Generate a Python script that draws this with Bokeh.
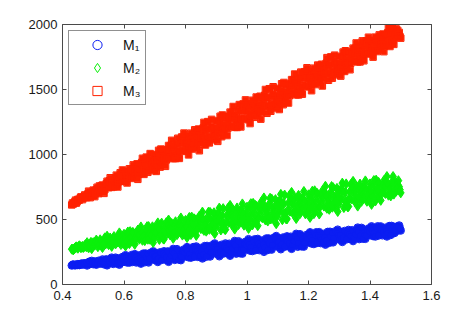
from bokeh.plotting import figure
from bokeh.models import Range1d, LinearAxis, FixedTicker
from bokeh.embed import file_html
from bokeh.resources import INLINE

# sample positions, first sweep
x_a = [
    0.430, 0.435, 0.440, 0.445, 0.450, 0.455, 0.460, 0.465, 0.470, 0.475,
    0.480, 0.485, 0.490, 0.495, 0.500, 0.505, 0.510, 0.515, 0.520, 0.525,
    0.530, 0.535, 0.540, 0.545, 0.550, 0.555, 0.560, 0.565, 0.570, 0.575,
    0.580, 0.585, 0.590, 0.595, 0.600, 0.605, 0.610, 0.615, 0.620, 0.625,
    0.630, 0.635, 0.640, 0.645, 0.650, 0.655, 0.660, 0.665, 0.670, 0.675,
    0.680, 0.685, 0.690, 0.695, 0.700, 0.705, 0.710, 0.715, 0.720, 0.725,
    0.730, 0.735, 0.740, 0.745, 0.750, 0.755, 0.760, 0.765, 0.770, 0.775,
    0.780, 0.785, 0.790, 0.795, 0.800, 0.805, 0.810, 0.815, 0.820, 0.825,
    0.830, 0.835, 0.840, 0.845, 0.850, 0.855, 0.860, 0.865, 0.870, 0.875,
    0.880, 0.885, 0.890, 0.895, 0.900, 0.905, 0.910, 0.915, 0.920, 0.925,
    0.930, 0.935, 0.940, 0.945, 0.950, 0.955, 0.960, 0.965, 0.970, 0.975,
    0.980, 0.985, 0.990, 0.995, 1.000, 1.005, 1.010, 1.015, 1.020, 1.025,
    1.030, 1.035, 1.040, 1.045, 1.050, 1.055, 1.060, 1.065, 1.070, 1.075,
    1.080, 1.085, 1.090, 1.095, 1.100, 1.105, 1.110, 1.115, 1.120, 1.125,
    1.130, 1.135, 1.140, 1.145, 1.150, 1.155, 1.160, 1.165, 1.170, 1.175,
    1.180, 1.185, 1.190, 1.195, 1.200, 1.205, 1.210, 1.215, 1.220, 1.225,
    1.230, 1.235, 1.240, 1.245, 1.250, 1.255, 1.260, 1.265, 1.270, 1.275,
    1.280, 1.285, 1.290, 1.295, 1.300, 1.305, 1.310, 1.315, 1.320, 1.325,
    1.330, 1.335, 1.340, 1.345, 1.350, 1.355, 1.360, 1.365, 1.370, 1.375,
    1.380, 1.385, 1.390, 1.395, 1.400, 1.405, 1.410, 1.415, 1.420, 1.425,
    1.430, 1.435, 1.440, 1.445, 1.450, 1.455, 1.460, 1.465, 1.470, 1.475,
    1.480, 1.485, 1.490, 1.495, 1.500,
]

# sample positions, second sweep
x_b = [
    0.4325, 0.4375, 0.4425, 0.4475, 0.4525, 0.4575, 0.4625, 0.4675, 0.4725, 0.4775,
    0.4825, 0.4875, 0.4925, 0.4975, 0.5025, 0.5075, 0.5125, 0.5175, 0.5225, 0.5275,
    0.5325, 0.5375, 0.5425, 0.5475, 0.5525, 0.5575, 0.5625, 0.5675, 0.5725, 0.5775,
    0.5825, 0.5875, 0.5925, 0.5975, 0.6025, 0.6075, 0.6125, 0.6175, 0.6225, 0.6275,
    0.6325, 0.6375, 0.6425, 0.6475, 0.6525, 0.6575, 0.6625, 0.6675, 0.6725, 0.6775,
    0.6825, 0.6875, 0.6925, 0.6975, 0.7025, 0.7075, 0.7125, 0.7175, 0.7225, 0.7275,
    0.7325, 0.7375, 0.7425, 0.7475, 0.7525, 0.7575, 0.7625, 0.7675, 0.7725, 0.7775,
    0.7825, 0.7875, 0.7925, 0.7975, 0.8025, 0.8075, 0.8125, 0.8175, 0.8225, 0.8275,
    0.8325, 0.8375, 0.8425, 0.8475, 0.8525, 0.8575, 0.8625, 0.8675, 0.8725, 0.8775,
    0.8825, 0.8875, 0.8925, 0.8975, 0.9025, 0.9075, 0.9125, 0.9175, 0.9225, 0.9275,
    0.9325, 0.9375, 0.9425, 0.9475, 0.9525, 0.9575, 0.9625, 0.9675, 0.9725, 0.9775,
    0.9825, 0.9875, 0.9925, 0.9975, 1.0025, 1.0075, 1.0125, 1.0175, 1.0225, 1.0275,
    1.0325, 1.0375, 1.0425, 1.0475, 1.0525, 1.0575, 1.0625, 1.0675, 1.0725, 1.0775,
    1.0825, 1.0875, 1.0925, 1.0975, 1.1025, 1.1075, 1.1125, 1.1175, 1.1225, 1.1275,
    1.1325, 1.1375, 1.1425, 1.1475, 1.1525, 1.1575, 1.1625, 1.1675, 1.1725, 1.1775,
    1.1825, 1.1875, 1.1925, 1.1975, 1.2025, 1.2075, 1.2125, 1.2175, 1.2225, 1.2275,
    1.2325, 1.2375, 1.2425, 1.2475, 1.2525, 1.2575, 1.2625, 1.2675, 1.2725, 1.2775,
    1.2825, 1.2875, 1.2925, 1.2975, 1.3025, 1.3075, 1.3125, 1.3175, 1.3225, 1.3275,
    1.3325, 1.3375, 1.3425, 1.3475, 1.3525, 1.3575, 1.3625, 1.3675, 1.3725, 1.3775,
    1.3825, 1.3875, 1.3925, 1.3975, 1.4025, 1.4075, 1.4125, 1.4175, 1.4225, 1.4275,
    1.4325, 1.4375, 1.4425, 1.4475, 1.4525, 1.4575, 1.4625, 1.4675, 1.4725, 1.4775,
    1.4825, 1.4875, 1.4925, 1.4975,
]

m1_a = [
    146, 154, 147, 153, 157, 149, 158, 156, 163, 157,
    146, 166, 158, 182, 156, 178, 152, 176, 172, 170,
    193, 155, 180, 147, 190, 172, 207, 158, 189, 172,
    201, 152, 186, 212, 174, 226, 169, 199, 186, 227,
    182, 234, 169, 203, 225, 160, 220, 200, 239, 186,
    169, 221, 195, 256, 188, 241, 173, 233, 221, 213,
    256, 190, 231, 174, 247, 215, 274, 189, 242, 211,
    256, 187, 234, 270, 216, 288, 209, 250, 231, 288,
    229, 293, 212, 254, 281, 200, 274, 249, 297, 231,
    215, 275, 245, 316, 236, 297, 217, 289, 273, 265,
    316, 240, 286, 221, 305, 268, 335, 237, 299, 262,
    314, 237, 289, 329, 269, 349, 260, 306, 285, 348,
    283, 351, 264, 310, 339, 251, 330, 303, 355, 284,
    268, 331, 299, 373, 290, 354, 271, 344, 329, 319,
    371, 293, 340, 274, 359, 322, 390, 290, 353, 316,
    368, 291, 343, 383, 323, 402, 315, 360, 339, 402,
    337, 403, 318, 362, 390, 306, 383, 357, 406, 338,
    324, 383, 353, 422, 345, 404, 327, 396, 381, 373,
    420, 351, 393, 334, 410, 377, 438, 349, 405, 372,
    417, 351, 396, 431, 379, 448, 372, 412, 393, 448,
    393, 447, 378, 414, 437, 369, 432, 411, 451, 396,
    396, 430, 414, 454, 415,
]
m1_b = [
    151, 151, 150, 149, 154, 153, 162, 153, 160, 164,
    157, 176, 172, 169, 168, 160, 164, 183, 160, 179,
    175, 167, 194, 162, 177, 195, 188, 173, 207, 161,
    173, 171, 200, 195, 211, 201, 188, 168, 212, 173,
    213, 205, 190, 175, 201, 185, 238, 171, 210, 232,
    198, 245, 232, 220, 217, 195, 201, 248, 189, 236,
    224, 210, 255, 199, 224, 254, 241, 214, 272, 192,
    217, 213, 254, 246, 267, 253, 235, 206, 267, 213,
    267, 257, 238, 219, 251, 231, 296, 213, 261, 288,
    248, 303, 288, 274, 269, 243, 251, 306, 237, 292,
    279, 263, 314, 249, 278, 312, 298, 265, 333, 240,
    270, 266, 311, 302, 326, 310, 289, 257, 325, 264,
    323, 313, 292, 271, 306, 285, 354, 265, 317, 346,
    303, 360, 344, 329, 325, 298, 305, 362, 290, 347,
    333, 317, 368, 303, 332, 367, 352, 319, 387, 293,
    324, 320, 365, 356, 379, 364, 343, 311, 379, 319,
    376, 366, 345, 326, 359, 338, 405, 320, 369, 397,
    357, 410, 395, 381, 377, 352, 359, 412, 346, 399,
    386, 372, 418, 360, 386, 417, 404, 375, 436, 352,
    380, 376, 415, 408, 428, 414, 397, 369, 428, 376,
    425, 417, 400, 385, 412, 395, 450, 381, 421, 444,
    415, 446, 438, 431,
]

m2_a = [
    272, 266, 280, 290, 279, 298, 282, 293, 291, 306,
    322, 282, 309, 275, 322, 303, 342, 290, 325, 306,
    284, 336, 311, 372, 306, 358, 293, 354, 343, 335,
    326, 397, 307, 356, 387, 296, 380, 353, 407, 334,
    399, 309, 371, 419, 349, 443, 340, 395, 371, 445,
    446, 347, 407, 323, 433, 385, 474, 346, 428, 379,
    349, 436, 393, 496, 381, 469, 355, 458, 437, 423,
    409, 512, 380, 449, 493, 361, 482, 442, 519, 412,
    501, 377, 461, 526, 429, 557, 416, 490, 456, 557,
    555, 424, 503, 391, 536, 471, 588, 419, 526, 461,
    422, 534, 477, 609, 461, 573, 426, 558, 530, 512,
    493, 620, 456, 541, 595, 431, 580, 530, 625, 492,
    601, 452, 552, 630, 513, 666, 496, 585, 543, 664,
    658, 506, 597, 467, 634, 559, 694, 498, 621, 546,
    504, 627, 564, 709, 546, 669, 507, 652, 621, 601,
    582, 716, 543, 633, 690, 516, 673, 620, 721, 580,
    691, 542, 642, 720, 603, 756, 586, 675, 633, 754,
    745, 598, 686, 561, 722, 650, 780, 591, 710, 638,
    600, 716, 657, 794, 640, 756, 603, 741, 711, 693,
    675, 797, 640, 722, 774, 616, 759, 711, 803, 675,
    774, 647, 733, 799, 700, 831, 687, 762, 728, 831,
    799, 717, 768, 752, 705,
]
m2_b = [
    272, 273, 286, 285, 292, 291, 289, 284, 300, 290,
    302, 295, 325, 291, 308, 328, 322, 306, 344, 296,
    312, 359, 349, 337, 335, 314, 321, 369, 312, 360,
    367, 358, 337, 316, 353, 332, 404, 314, 368, 400,
    347, 343, 398, 387, 416, 398, 374, 337, 418, 348,
    396, 377, 444, 360, 398, 443, 425, 383, 472, 352,
    396, 476, 456, 435, 429, 392, 403, 483, 383, 464,
    469, 454, 423, 392, 444, 412, 516, 384, 461, 506,
    430, 423, 498, 482, 520, 495, 462, 410, 520, 424,
    490, 463, 552, 439, 489, 548, 523, 467, 584, 425,
    483, 585, 558, 530, 522, 474, 487, 589, 461, 564,
    567, 548, 509, 470, 534, 494, 622, 458, 553, 608,
    516, 507, 596, 577, 622, 591, 551, 488, 620, 504,
    582, 551, 653, 523, 580, 648, 618, 554, 688, 504,
    571, 683, 653, 622, 613, 560, 574, 686, 545, 658,
    660, 640, 599, 557, 625, 583, 718, 544, 645, 703,
    606, 597, 686, 667, 712, 681, 641, 578, 710, 594,
    672, 642, 740, 615, 670, 736, 707, 645, 774, 597,
    663, 769, 741, 712, 703, 653, 667, 773, 640, 747,
    746, 728, 691, 653, 715, 677, 800, 642, 734, 787,
    701, 694, 771, 754, 793, 768, 734, 681, 793, 695,
    758, 742, 799, 729,
]

m3_a = [
    612, 619, 637, 626, 655, 650, 674, 653, 677, 672,
    670, 718, 668, 703, 726, 676, 731, 720, 758, 719,
    765, 701, 752, 794, 745, 821, 747, 793, 780, 841,
    750, 825, 793, 881, 794, 868, 781, 868, 856, 850,
    920, 825, 888, 809, 923, 879, 971, 847, 934, 889,
    898, 1007, 876, 952, 1000, 870, 995, 958, 1042, 937,
    1032, 909, 998, 1069, 974, 1109, 968, 1047, 1018, 1125,
    970, 1083, 1031, 1165, 1024, 1138, 997, 1130, 1108, 1094,
    1190, 1056, 1142, 1029, 1185, 1121, 1247, 1073, 1190, 1126,
    1141, 1270, 1113, 1201, 1258, 1101, 1250, 1205, 1304, 1177,
    1286, 1146, 1246, 1326, 1217, 1369, 1209, 1298, 1263, 1384,
    1212, 1334, 1276, 1420, 1268, 1390, 1238, 1381, 1357, 1341,
    1442, 1301, 1391, 1272, 1436, 1368, 1500, 1317, 1440, 1372,
    1388, 1521, 1358, 1450, 1508, 1346, 1499, 1452, 1554, 1423,
    1536, 1396, 1496, 1576, 1467, 1619, 1459, 1548, 1513, 1634,
    1464, 1583, 1527, 1667, 1520, 1638, 1491, 1630, 1606, 1592,
    1688, 1554, 1640, 1527, 1683, 1619, 1745, 1571, 1688, 1624,
    1641, 1764, 1613, 1699, 1754, 1603, 1746, 1703, 1798, 1677,
    1780, 1652, 1744, 1818, 1719, 1858, 1712, 1794, 1763, 1874,
    1721, 1826, 1778, 1902, 1773, 1878, 1749, 1872, 1852, 1840,
    1920, 1811, 1882, 1791, 1920, 1869, 1973, 1831, 1929, 1877,
    1900, 1966, 1955, 1939, 1895,
]
m3_b = [
    627, 628, 649, 637, 650, 665, 667, 665, 689, 669,
    697, 696, 689, 681, 708, 700, 748, 699, 737, 760,
    728, 729, 776, 772, 798, 789, 775, 752, 818, 769,
    791, 859, 847, 834, 834, 809, 821, 890, 816, 884,
    872, 857, 928, 848, 890, 939, 924, 887, 980, 863,
    961, 950, 923, 895, 952, 924, 1032, 903, 986, 1034,
    961, 958, 1039, 1026, 1069, 1048, 1017, 969, 1085, 990,
    1031, 1135, 1113, 1090, 1086, 1043, 1059, 1164, 1042, 1146,
    1123, 1099, 1196, 1082, 1138, 1204, 1180, 1127, 1253, 1089,
    1216, 1201, 1168, 1133, 1200, 1165, 1294, 1137, 1235, 1292,
    1206, 1201, 1292, 1277, 1324, 1299, 1264, 1208, 1339, 1231,
    1278, 1389, 1365, 1339, 1335, 1288, 1304, 1417, 1286, 1397,
    1372, 1346, 1448, 1327, 1386, 1455, 1430, 1373, 1506, 1333,
    1465, 1450, 1415, 1379, 1448, 1412, 1544, 1383, 1484, 1542,
    1456, 1451, 1542, 1527, 1574, 1549, 1514, 1458, 1589, 1481,
    1529, 1637, 1613, 1588, 1584, 1539, 1555, 1664, 1538, 1646,
    1621, 1597, 1694, 1580, 1636, 1702, 1678, 1625, 1751, 1587,
    1712, 1699, 1666, 1633, 1698, 1665, 1788, 1639, 1733, 1788,
    1706, 1703, 1786, 1773, 1817, 1795, 1762, 1712, 1833, 1734,
    1778, 1874, 1854, 1833, 1830, 1791, 1806, 1903, 1792, 1888,
    1865, 1847, 1927, 1835, 1882, 1937, 1919, 1876, 1981, 1847,
    1938, 1934, 1921, 1907,
]

series_names = ["M\u2081", "M\u2082", "M\u2083"]
series_colors = ["#0b1df2", "#0af00a", "#ff2200"]

x_ticks = [0.4, 0.6, 0.8, 1.0, 1.2, 1.4, 1.6]
x_tick_labels = ["0.4", "0.6", "0.8", "1", "1.2", "1.4", "1.6"]
y_ticks = [0, 500, 1000, 1500, 2000]
y_tick_labels = ["0", "500", "1000", "1500", "2000"]

FONT = "Liberation Sans"

p = figure(
    frame_width=369, frame_height=260,
    x_range=Range1d(0.4, 1.6), y_range=Range1d(0, 2000),
    output_backend="svg", toolbar_location=None,
    x_axis_location=None, y_axis_location=None,
    min_border_left=62, min_border_top=24, min_border_right=40, min_border_bottom=24,
)
p.grid.visible = False
p.outline_line_color = None
p.background_fill_color = "white"
p.border_fill_color = "white"


def style_axis(ax, ticks, labels, show_labels, standoff):
    ax.ticker = FixedTicker(ticks=ticks)
    ax.major_tick_in = 4
    ax.major_tick_out = 0
    ax.minor_tick_line_color = None
    ax.axis_line_color = "#4a4a4a"
    ax.major_tick_line_color = "#4a4a4a"
    if show_labels:
        ax.major_label_overrides = {t: l for t, l in zip(ticks, labels)}
        ax.major_label_text_font = FONT
        ax.major_label_text_color = "#1a1a1a"
        ax.major_label_text_font_size = "13px"
        ax.major_label_standoff = standoff
    else:
        ax.major_label_text_color = None
        ax.major_label_text_font_size = "1px"
        ax.major_label_standoff = 0


bottom = LinearAxis()
left = LinearAxis()
top = LinearAxis()
right = LinearAxis()
style_axis(bottom, x_ticks, x_tick_labels, True, 6)
style_axis(left, y_ticks, y_tick_labels, True, 5)
style_axis(top, x_ticks, x_tick_labels, False, 0)
style_axis(right, y_ticks, y_tick_labels, False, 0)
p.add_layout(bottom, "below")
p.add_layout(left, "left")
p.add_layout(top, "above")
p.add_layout(right, "right")

xs = x_a + x_b
series = [
    (m1_a + m1_b, "circle", 7.5),
    (m2_a + m2_b, "diamond", 10.0),
    (m3_a + m3_b, "square", 6.5),
]

for (vals, marker, size), name, col in zip(series, series_names, series_colors):
    # dense interior (filled) under the outlined markers
    p.scatter(xs, vals, marker=marker, size=size - 1.5,
              fill_color=col, line_color=col, line_width=1)
    p.scatter(xs, vals, marker=marker, size=size,
              fill_color=None, line_color=col, line_width=1, legend_label=name)

lg = p.legend[0]
lg.location = "top_left"
lg.margin = 6
lg.padding = 2
lg.spacing = 0
lg.glyph_width = 52
lg.glyph_height = 23
lg.label_height = 23
lg.label_standoff = -1
lg.label_text_font = FONT
lg.label_text_font_size = "14px"
lg.label_text_color = "#111111"
lg.border_line_color = "#222222"
lg.border_line_width = 1
lg.background_fill_color = "white"
lg.background_fill_alpha = 1.0

open("out.html", "w").write(file_html(p, INLINE))
